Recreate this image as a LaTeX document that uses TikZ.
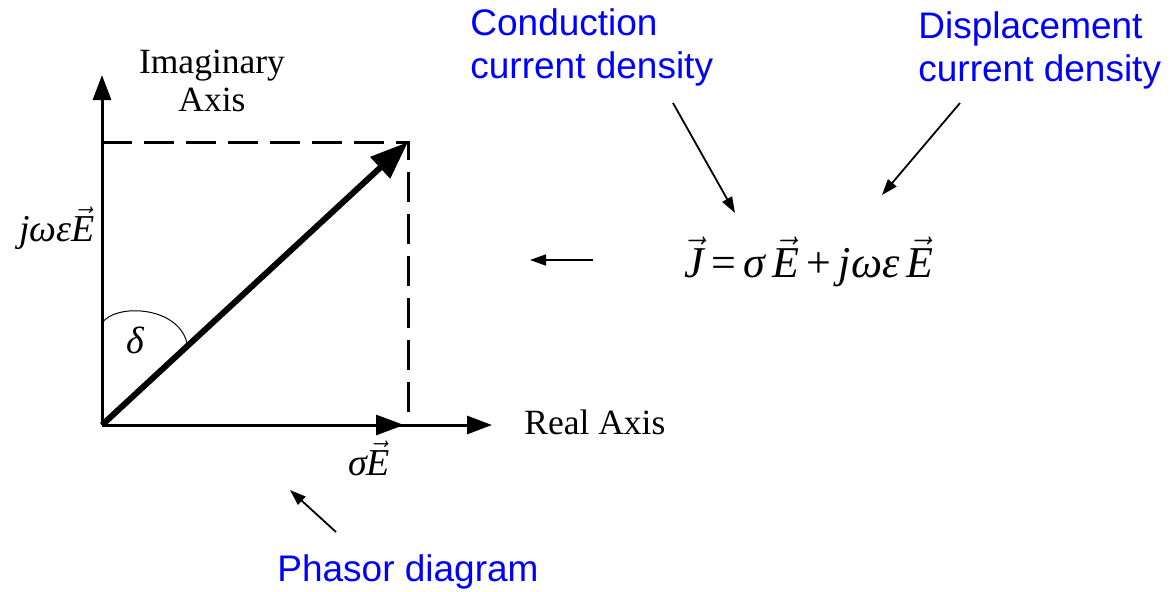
\documentclass[tikz,border=0pt]{standalone}
\usepackage{fontspec}
\setmainfont{Liberation Serif}
\newfontfamily\arialfont{Liberation Sans}
\usetikzlibrary{arrows.meta}
\newcommand{\vecit}[1]{\ensuremath{\vec{\mbox{\itshape #1}}}}
\begin{document}
\begin{tikzpicture}[x=0.5pt,y=-0.5pt,
  axisline/.style={line width=1.5pt,-{Triangle[length=12.5pt,width=9pt]}},
  vectorline/.style={line width=3pt,-{Triangle[length=19pt,width=14pt]}},
  smallvec/.style={line width=1.5pt,-{Triangle[length=14pt,width=10pt]}},
  dashline/.style={line width=1.5pt,dash pattern=on 15pt off 6pt},
  pointer/.style={line width=0.9pt,-{Triangle[length=8pt,width=5.5pt]}},
  bluetext/.style={font=\arialfont\fontsize{18.5}{21.5}\selectfont,text=blue,align=left,inner sep=0pt},
  seriftext/.style={font=\fontsize{17.75}{19}\selectfont,align=center,inner sep=0pt},
  mathlabel/.style={font=\fontsize{19}{22}\selectfont,inner sep=0pt}
]
\useasboundingbox (0,0) rectangle (1175,591);
% axes
\coordinate (O) at (102,425);
\coordinate (Ytop) at (102,75);
\coordinate (Xend) at (492,425);
\coordinate (P) at (408,142);
\coordinate (Yc) at (102,142);
\coordinate (Xc) at (408,425);
\coordinate (SE) at (404,425);
\draw[axisline] (O) -- (Ytop);
\draw[axisline] (O) -- (Xend);
\draw[dashline] (Yc) -- (P) -- (Xc);
\draw[vectorline] (O) -- (P);
\draw[smallvec] (O) -- (SE);
% angle arc
\coordinate (A1) at (102,323);
\coordinate (A2) at (187,343);
\draw[line width=0.5pt] (A1) .. controls (116,303) and (178,306) .. (A2);
% labels
\node[seriftext] (imag) at (212,81) {Imaginary\\Axis};
\node[seriftext,anchor=west] (real) at (524,422) {Real Axis};
\node[mathlabel] (jwe) at (57,228) {{\itshape jωε}\vecit{E}};
\node[mathlabel] (se) at (369,458) {{\itshape σ}\vecit{E}};
\node[mathlabel] (delta) at (135,340) {\itshape δ};
\node[font=\fontsize{22}{26}\selectfont,inner sep=0pt] (eq) at (809,262)
  {\vecit{J}\,=\,{\itshape σ}\,\vecit{E}\,+\,{\itshape jωε}\,\vecit{E}};
% blue labels
\node[bluetext,anchor=west] (cond) at (470,47) {Conduction\\current density};
\node[bluetext,anchor=west] (disp) at (918,50) {Displacement\\current density};
\node[bluetext,anchor=west] (phasor) at (277,572) {Phasor diagram};
% pointers
\coordinate (c1) at (673,103);
\coordinate (c2) at (735,213);
\coordinate (d1) at (960,103);
\coordinate (d2) at (882,195);
\coordinate (e1) at (593,260);
\coordinate (e2) at (530,260);
\coordinate (p1) at (336,532);
\coordinate (p2) at (290,490);
\draw[pointer] (c1) -- (c2);
\draw[pointer] (d1) -- (d2);
\draw[pointer] (e1) -- (e2);
\draw[pointer] (p1) -- (p2);
\end{tikzpicture}
\end{document}
